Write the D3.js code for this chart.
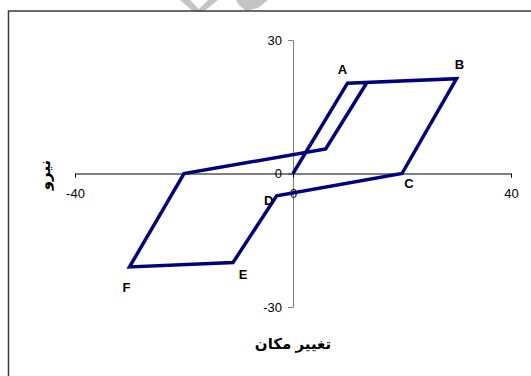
<!DOCTYPE html>
<html>
<head>
<meta charset="utf-8">
<script src="https://cdn.jsdelivr.net/npm/d3@7"></script>
<style>
  body { margin: 0; background: #fff; }
  svg { display: block; }
</style>
</head>
<body>
<div id="chart"></div>
<script>
// hysteresis loop
let xs = [0, 10, 30, 20, -3, -11, -30, -20, 6, 13.6]
let ys = [0, 20.3, 21.3, 0, -5, -20, -21, 0, 5.5, 20.5]

// corner letters
let pointNames = ["A", "B", "C", "D", "E", "F"]
let pointX = [10, 30, 20, -3, -11, -30]
let pointY = [20.3, 21.3, 0, -5, -20, -21]

let xTicks = [-40, 0, 40]
let yTicks = [-30, 0, 30]

let svg = d3.select("#chart").append("svg")
svg.attr("width", 531)
svg.attr("height", 376)

// faint watermark fragment at the top edge
svg.append("path")
   .attr("d", "M180,0 L190,0 L199,9 L208,0 L218,0 L203,12 L194,12 Z M236,0 L268,0 L258,8 L246,11 L239,5 Z")
   .style("fill", "#c4c4c4")

// frame of the chart area (runs off the right and bottom)
svg.append("rect")
   .attr("x", 8.5)
   .attr("y", 11)
   .attr("width", 600)
   .attr("height", 400)
   .style("fill", "none")
   .style("stroke", "#3a3a3a")
   .style("stroke-width", 1.5)

let x = d3.scaleLinear().domain([-40, 40]).range([75, 511])
let y = d3.scaleLinear().domain([-30, 30]).range([307, 40])

// plain hyphen minus like the original
let fmt = function (d) { return String(d) }

// x axis through y = 0
let xAxis = svg.append("g")
   .attr("transform", "translate(0," + y(0) + ")")
   .call(d3.axisBottom(x).tickValues(xTicks).tickFormat(fmt).tickSizeInner(4).tickSizeOuter(4).tickPadding(11))
xAxis.selectAll("path, line").style("stroke", "#000")
xAxis.selectAll("text")
     .style("font-family", "Arial, 'Liberation Sans', sans-serif")
     .style("font-size", "13px")
     .style("fill", "#000")

// y axis through x = 0
let yAxis = svg.append("g")
   .attr("transform", "translate(" + x(0) + ",0)")
   .call(d3.axisLeft(y).tickValues(yTicks).tickFormat(fmt).tickSizeInner(5).tickSizeOuter(5).tickPadding(6))
yAxis.selectAll("path, line").style("stroke", "#808080")
yAxis.selectAll("text")
     .style("font-family", "Arial, 'Liberation Sans', sans-serif")
     .style("font-size", "13px")
     .style("fill", "#000")
xAxis.raise()

let line = d3.line()
   .x(function (d, i) { return x(xs[i]) })
   .y(function (d, i) { return y(ys[i]) })

svg.append("path")
   .attr("d", line(xs))
   .style("fill", "none")
   .style("stroke", "#000080")
   .style("stroke-width", 3.5)
   .style("stroke-linejoin", "miter")

// offsets of each letter from its corner
let dx = [-5, 3, 7, -8, 10, -3]
let dy = [-14, -14, 10, 5, 12, 21]

for (let i = 0; i < pointNames.length; i++) {
  svg.append("text")
     .attr("x", x(pointX[i]) + dx[i])
     .attr("y", y(pointY[i]) + dy[i])
     .attr("text-anchor", "middle")
     .attr("dominant-baseline", "central")
     .style("font-family", "Arial, 'Liberation Sans', sans-serif")
     .style("font-weight", "bold")
     .style("font-size", "13px")
     .text(pointNames[i])
}

// axis titles
svg.append("text")
   .attr("x", 293)
   .attr("y", 343)
   .attr("text-anchor", "middle")
   .attr("dominant-baseline", "central")
   .style("font-family", "Arial, 'DejaVu Sans', sans-serif")
   .style("font-weight", "bold")
   .style("font-size", "15px")
   .text("تغيير مكان")

svg.append("text")
   .attr("transform", "translate(44,175) rotate(-90)")
   .attr("text-anchor", "middle")
   .attr("dominant-baseline", "central")
   .style("font-family", "Arial, 'DejaVu Sans', sans-serif")
   .style("font-weight", "bold")
   .style("font-size", "15px")
   .text("نيرو")
</script>
</body>
</html>
